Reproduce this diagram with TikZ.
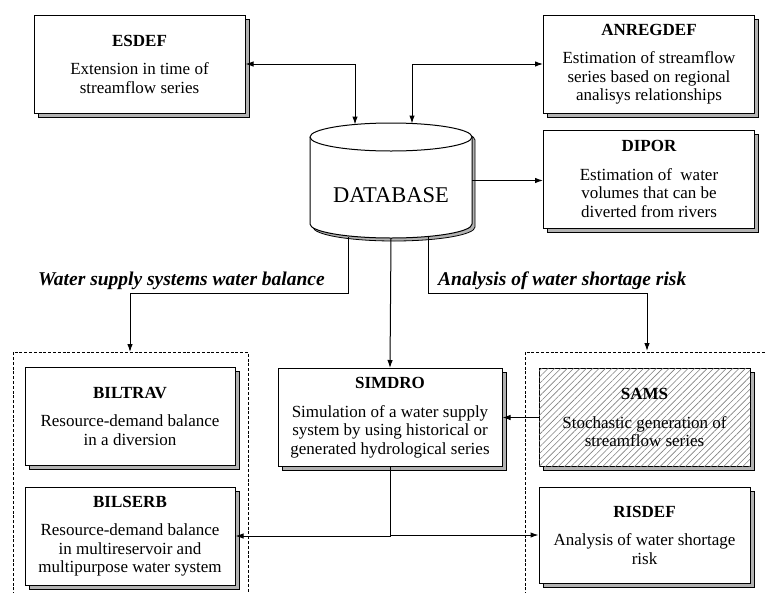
\documentclass[tikz,border=0pt]{standalone}
\usepackage{fontspec}
\setmainfont{Liberation Serif}
\usetikzlibrary{positioning,arrows.meta,shadows,patterns.meta}

\tikzset{
  modbox/.style={draw, fill=white, line width=1pt, minimum width=211pt,
    minimum height=98pt, align=center, inner sep=2pt,
    font=\fontsize{17}{18.5}\selectfont,
    general shadow={draw=black, fill=gray!60, line width=0.8pt,
      shadow xshift=4pt, shadow yshift=-4pt}},
  link/.style={line width=1pt, -{Latex[length=8pt,width=5.5pt]}},
  dlink/.style={line width=1pt, {Latex[length=8pt,width=5.5pt]}-{Latex[length=8pt,width=5.5pt]}},
  grp/.style={line width=1pt, dash pattern=on 3pt off 1.8pt},
  flowlabel/.style={font=\fontsize{19.5}{21}\selectfont\bfseries\itshape, inner sep=1pt},
  dbrim/.style={x radius=81pt, y radius=14pt}
}
\newcommand{\modtext}[2]{\textbf{#1}\\[10pt]#2}

\begin{document}
\begin{tikzpicture}[x=1pt,y=-1pt]
    \useasboundingbox[fill=white] (0,0) rectangle (765,592);

    % Database
    \fill[gray!60, draw=black, line width=0.8pt] (313,140) -- (313,227)
      arc[start angle=180, end angle=360, dbrim] -- (475,140)
      arc[start angle=0, end angle=180, dbrim] -- cycle;
    \draw[fill=white, line width=1pt] (310,137) -- (310,224)
      arc[start angle=180, end angle=360, dbrim] -- (472,137)
      arc[start angle=0, end angle=180, dbrim] -- cycle;
    \draw[line width=1pt] (472,137) arc[start angle=0, end angle=-180, dbrim];
    \node[minimum width=162pt, minimum height=115pt, inner sep=0pt] (db) at (391,180.5) {};
    \node[font=\fontsize{22.5}{24}\selectfont] (dblabel) at (391,195) {DATABASE};
    \coordinate (dbA) at (355,124.5);
    \coordinate (dbB) at (412,123.5);
    \coordinate (dbC) at (348,237);
    \coordinate (dbD) at (428,237);

    % Modules
    \node[modbox] (esdef) at (139.5,64) {\modtext{ESDEF}{Extension in time of\\ streamflow series}};
    \node[modbox] (anregdef) at (649,64) {\modtext{ANREGDEF}{Estimation of streamflow\\ series based on regional\\ analisys relationships}};
    \node[modbox] (dipor) at (649,179) {\modtext{DIPOR}{Estimation of~ water\\ volumes that can be\\ diverted from rivers}};
    \node[modbox, minimum width=210pt] (biltrav) at (130,416) {\modtext{BILTRAV}{Resource-demand balance\\ in a diversion}};
    \node[modbox, minimum width=210pt] (bilserb) at (130,536) {\modtext{BILSERB}{Resource-demand balance\\ in multireservoir and\\ multipurpose water system}};
    \node[modbox, minimum width=224pt] (simdro) at (390,417.5) {\modtext{SIMDRO}{Simulation of a water supply\\ system by using historical or\\ generated hydrological series}};
    \node[modbox, postaction={pattern={Lines[angle=45, distance=4.5pt, line width=0.6pt]}, pattern color=gray}] (sams) at (644.5,417.5) {\modtext{SAMS}{Stochastic generation of\\ streamflow series}};
    \node[modbox, minimum height=96pt] (risdef) at (644.5,535) {\modtext{RISDEF}{Analysis of water shortage\\ risk}};

    % Groups
    \coordinate (lgrp) at (130,352);
    \coordinate (rgrp) at (647,351);
    \draw[grp] (13,600) -- (13,352) -- (248,352) -- (248,600);
    \draw[grp] (525,600) -- (525,352) -- (770,352);

    % Connectors
    \draw[dlink] (esdef.east) -| (dbA);
    \draw[dlink] (anregdef.west) -| (dbB);
    \draw[link] (db.east) -- (db.east -| dipor.west);
    \draw[link] (dbC) -- ++(0,56) coordinate (lbend) -| (lgrp);
    \draw[link] (dbD) -- ++(0,56) coordinate (rbend) -| (rgrp);
    \draw[link] (db.south) -- (simdro.north);
    \draw[link] (sams.west) -- (simdro.east);
    \draw[link] (simdro.south) |- (bilserb.east);
    \draw[link] (simdro.south) |- (risdef.west);

    % Labels
    \node[flowlabel, anchor=south east] (wblabel) at ([xshift=-22pt,yshift=2pt]lbend) {Water supply systems water balance};
    \node[flowlabel, anchor=south west] (rklabel) at ([xshift=9pt,yshift=2pt]rbend) {Analysis of water shortage risk};
\end{tikzpicture}
\end{document}
